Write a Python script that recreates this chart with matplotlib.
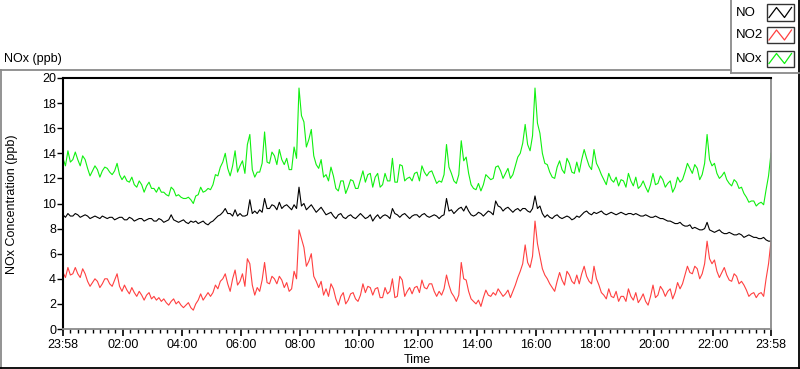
import numpy as np
import matplotlib
matplotlib.use("Agg")
import matplotlib.pyplot as plt
from matplotlib.lines import Line2D
from matplotlib.patches import Rectangle

# ---------------- data (readings every 5 minutes from 23:58) ----------------
start_time = "23:58"
step_minutes = 5

no = [9.1, 8.9, 9.2, 9.0, 9.0, 9.2, 9.1, 8.9, 9.0, 9.1,
      9.0, 8.8, 8.9, 9.0, 8.9, 8.8, 9.0, 8.9, 8.8, 8.9,
      8.9, 8.7, 8.8, 8.9, 8.9, 8.7, 8.7, 8.9, 8.8, 8.6,
      8.7, 8.8, 8.8, 8.6, 8.7, 8.8, 8.8, 8.6, 8.6, 8.8,
      8.7, 8.5, 8.6, 8.7, 9.1, 8.7, 8.6, 8.5, 8.6, 8.7,
      8.5, 8.4, 8.6, 8.5, 8.6, 8.4, 8.5, 8.6, 8.4, 8.3,
      8.5, 8.6, 8.8, 9.0, 9.1, 9.3, 9.6, 9.2, 9.2, 9.0,
      9.5, 9.0, 9.2, 9.0, 9.0, 9.1, 10.3, 9.2, 9.4, 9.2,
      9.5, 9.3, 10.4, 9.6, 9.6, 9.9, 9.8, 9.5, 10.1, 9.6,
      9.8, 9.9, 9.7, 9.5, 9.9, 9.6, 11.3, 9.8, 10.0, 9.5,
      9.7, 9.9, 9.6, 9.3, 9.5, 9.7, 9.4, 9.1, 9.2, 9.3,
      9.0, 8.8, 9.1, 9.2, 8.9, 8.8, 9.0, 9.1, 8.9, 8.8,
      9.0, 9.2, 9.0, 8.8, 8.9, 9.1, 8.6, 8.9, 9.1, 8.8,
      9.0, 9.1, 9.0, 8.8, 9.6, 9.2, 9.1, 8.9, 9.1, 9.2,
      9.0, 8.8, 9.0, 9.1, 9.1, 8.9, 9.1, 9.2, 9.0, 8.9,
      9.0, 9.1, 9.0, 8.8, 9.0, 9.1, 10.4, 9.4, 9.5, 9.2,
      9.4, 9.6, 9.7, 9.4, 9.8, 9.4, 9.1, 9.0, 9.1, 9.3,
      9.2, 9.0, 9.2, 9.4, 9.3, 9.1, 10.2, 9.8, 9.7, 9.4,
      9.6, 9.7, 9.5, 9.3, 9.5, 9.6, 9.4, 9.6, 9.6, 9.4,
      9.3, 9.6, 10.6, 9.6, 9.8, 9.2, 8.9, 9.1, 8.9, 8.8,
      9.0, 9.1, 8.9, 8.8, 8.9, 9.0, 8.9, 8.7, 8.8, 9.0,
      8.9, 9.1, 9.3, 9.4, 9.2, 9.1, 9.3, 9.2, 9.3, 9.4,
      9.2, 9.1, 9.2, 9.3, 9.2, 9.1, 9.2, 9.3, 9.2, 9.1,
      9.2, 9.2, 9.1, 9.2, 9.1, 9.0, 9.0, 9.1, 9.0, 8.9,
      8.9, 9.0, 8.9, 8.8, 8.8, 8.7, 8.6, 8.6, 8.5, 8.4,
      8.4, 8.5, 8.3, 8.2, 8.2, 8.3, 8.0, 8.1, 8.0, 7.9,
      7.9, 8.0, 8.5, 7.9, 7.8, 7.7, 7.8, 7.9, 7.7, 7.6,
      7.6, 7.7, 7.6, 7.5, 7.5, 7.6, 7.5, 7.3, 7.4, 7.5,
      7.4, 7.3, 7.3, 7.2, 7.2, 7.3, 7.1, 7.0, 7.0]

no2 = [4.5, 4.1, 4.9, 4.3, 4.4, 4.9, 4.4, 4.1, 4.8, 4.4,
       3.8, 3.4, 3.7, 4.0, 3.8, 3.3, 3.6, 4.0, 4.0, 3.6,
       3.4, 3.9, 4.4, 3.4, 3.0, 3.5, 3.1, 2.8, 3.3, 2.9,
       2.6, 3.0, 2.7, 2.3, 2.7, 2.9, 2.4, 2.6, 2.3, 2.5,
       2.2, 2.4, 2.1, 1.9, 2.2, 2.4, 2.0, 2.2, 1.9, 1.7,
       1.9, 2.1, 1.7, 1.5, 2.0, 2.3, 2.8, 2.3, 2.6, 2.9,
       2.6, 2.9, 3.5, 3.2, 3.8, 4.0, 4.4, 3.6, 3.0, 4.0,
       4.7, 3.5, 3.8, 4.4, 3.4, 5.6, 5.2, 3.5, 2.7, 3.3,
       3.0, 3.9, 5.3, 3.7, 3.6, 4.2, 4.0, 3.6, 4.2, 3.9,
       3.3, 3.7, 3.0, 3.2, 4.6, 4.0, 7.9, 7.2, 6.5, 5.0,
       5.4, 6.0, 4.2, 3.8, 3.3, 3.8, 2.7, 3.2, 2.6, 3.6,
       3.2, 2.4, 1.9, 2.6, 2.9, 2.0, 2.3, 2.8, 2.9, 2.4,
       2.2, 2.7, 3.6, 2.9, 3.4, 3.3, 2.7, 3.2, 3.3, 2.5,
       2.5, 3.3, 2.8, 3.0, 4.0, 2.5, 2.6, 4.2, 3.9, 2.6,
       3.0, 3.3, 2.8, 3.3, 3.4, 2.9, 3.9, 3.3, 3.2, 3.6,
       3.6, 3.0, 2.6, 3.0, 2.7, 3.2, 4.3, 3.5, 2.9, 2.6,
       2.2, 2.7, 5.3, 4.0, 3.9, 3.0, 2.4, 2.2, 2.0, 2.3,
       1.8, 2.5, 3.1, 2.7, 2.6, 2.9, 2.7, 3.2, 2.9, 2.6,
       2.8, 3.1, 2.5, 3.0, 3.5, 4.1, 4.6, 5.2, 6.7, 5.3,
       4.9, 5.8, 8.6, 6.8, 5.8, 4.8, 4.3, 4.0, 3.6, 3.3,
       3.0, 3.8, 4.5, 3.9, 3.5, 4.6, 4.3, 3.8, 3.6, 4.3,
       3.6, 4.4, 5.0, 4.2, 3.8, 3.6, 5.0, 4.0, 3.5, 2.9,
       2.7, 2.4, 3.2, 2.6, 2.5, 3.0, 2.2, 2.6, 2.6, 2.2,
       3.2, 2.6, 2.3, 2.9, 2.1, 2.4, 2.8, 2.2, 1.9, 2.6,
       3.5, 2.5, 2.7, 3.4, 3.1, 2.6, 3.0, 3.2, 2.4, 2.9,
       3.7, 3.2, 3.6, 4.3, 5.0, 4.5, 4.4, 5.0, 4.8, 4.0,
       4.4, 5.2, 7.0, 5.6, 5.2, 5.5, 4.6, 4.1, 4.5, 4.9,
       4.3, 3.9, 3.8, 4.4, 4.2, 3.6, 3.8, 3.5, 3.1, 2.6,
       2.8, 2.9, 2.5, 2.8, 2.9, 2.6, 4.0, 5.2, 7.0]

nox = [13.6, 13.0, 14.2, 13.3, 13.5, 14.1, 13.5, 13.0, 13.8, 13.5,
       12.8, 12.2, 12.6, 13.0, 12.7, 12.1, 12.6, 12.9, 12.8, 12.5,
       12.3, 12.6, 13.2, 12.3, 11.9, 12.2, 11.8, 11.7, 12.1, 11.5,
       11.3, 11.8, 11.5, 10.9, 11.4, 11.7, 11.2, 11.2, 10.9, 11.3,
       10.9, 10.9, 10.7, 10.6, 11.3, 11.1, 10.6, 10.7, 10.5, 10.4,
       10.4, 10.5, 10.3, 10.0, 10.6, 10.7, 11.3, 10.9, 11.0, 11.2,
       11.1, 11.5, 12.3, 12.2, 12.9, 13.3, 14.0, 12.8, 12.2, 13.0,
       14.2, 12.5, 13.0, 13.4, 12.4, 14.7, 15.5, 12.7, 12.1, 12.5,
       12.5, 13.2, 15.7, 13.3, 13.2, 14.1, 13.8, 13.1, 14.3, 13.5,
       13.1, 13.6, 12.7, 12.7, 14.5, 13.6, 19.2, 17.0, 16.5, 14.5,
       15.1, 15.9, 13.8, 13.1, 12.8, 13.5, 12.1, 12.3, 11.8, 12.9,
       12.2, 11.2, 11.0, 11.8, 11.8, 10.8, 11.3, 11.9, 11.8, 11.2,
       11.2, 11.9, 12.6, 11.7, 12.3, 12.4, 11.3, 12.1, 12.4, 11.3,
       11.5, 12.4, 11.8, 11.8, 13.6, 11.7, 11.7, 13.1, 13.0, 11.8,
       12.0, 12.1, 11.8, 12.4, 12.5, 11.8, 13.0, 12.5, 12.2, 12.5,
       12.6, 12.1, 11.6, 11.8, 11.7, 12.3, 14.7, 12.9, 12.4, 11.8,
       11.6, 12.3, 15.0, 13.4, 13.7, 12.4, 11.5, 11.2, 11.1, 11.6,
       11.0, 11.5, 12.3, 12.1, 11.9, 12.0, 12.9, 13.0, 12.6, 12.0,
       12.4, 12.8, 12.0, 12.3, 13.0, 13.7, 14.0, 14.8, 16.3, 14.7,
       14.2, 15.4, 19.2, 16.4, 15.6, 14.0, 13.2, 13.1, 12.5, 12.1,
       12.0, 12.9, 13.4, 12.7, 12.4, 13.6, 13.2, 12.5, 12.4, 13.3,
       12.5, 13.5, 14.3, 13.6, 13.0, 12.7, 14.3, 13.2, 12.8, 12.3,
       11.9, 11.5, 12.4, 11.9, 11.7, 12.1, 11.4, 11.9, 11.8, 11.3,
       12.4, 11.8, 11.4, 12.1, 11.2, 11.4, 11.8, 11.3, 10.9, 11.5,
       12.4, 11.5, 11.6, 12.2, 11.9, 11.3, 11.6, 11.8, 10.9, 11.3,
       12.1, 11.7, 11.9, 12.5, 13.2, 12.8, 12.4, 13.1, 12.8, 11.9,
       12.3, 13.2, 15.5, 13.5, 13.0, 13.2, 12.4, 12.0, 12.2, 12.5,
       11.9, 11.6, 11.4, 11.9, 11.7, 11.2, 11.3, 10.8, 10.5, 10.1,
       10.2, 10.2, 9.8, 10.0, 10.1, 9.9, 11.1, 12.2, 14.0]

series_names = ["NO", "NO2", "NOx"]
x_tick_labels = ["23:58", "02:00", "04:00", "06:00", "08:00", "10:00", "12:00",
                 "14:00", "16:00", "18:00", "20:00", "22:00", "23:58"]
y_ticks = [0, 2, 4, 6, 8, 10, 12, 14, 16, 18, 20]

# ---------------- style ----------------
colors = {"NO": "#000000", "NO2": "#ff4040", "NOx": "#10f010"}
plt.rcParams["font.family"] = ["Liberation Sans", "DejaVu Sans"]
FS = 9

W, H = 800, 369
fig = plt.figure(figsize=(W / 100, H / 100), dpi=100)
fig.patch.set_facecolor("white")


def fx(px):
    return px / W


def fy(py):
    return 1 - py / H


L, R, T, B = 63, 771, 78, 329
ax = fig.add_axes([fx(L), fy(B), fx(R) - fx(L), fy(T) - fy(B)])

t = np.arange(len(no)) * step_minutes
ax.plot(t, nox, color=colors["NOx"], lw=0.8)
ax.plot(t, no2, color=colors["NO2"], lw=0.8)
ax.plot(t, no, color=colors["NO"], lw=0.8)


def to_min(lbl):
    h, m = map(int, lbl.split(":"))
    h0, m0 = map(int, start_time.split(":"))
    return ((h * 60 + m) - (h0 * 60 + m0)) % 1440


major = [to_min(l) for l in x_tick_labels]
if major[-1] == 0:
    major[-1] = 1440
minor = []
for a, b in zip(major[:-1], major[1:]):
    minor += list(np.linspace(a, b, 9)[1:-1])

ax.set_xlim(0, 1440)
ax.set_ylim(0, 20)
ax.set_xticks(major)
ax.set_xticklabels(x_tick_labels, fontsize=FS)
ax.set_xticks(minor, minor=True)
ax.set_yticks(y_ticks)
ax.set_yticklabels([str(v) for v in y_ticks], fontsize=FS)
ax.tick_params(axis="x", which="major", length=5, width=1.2, pad=2, color="black")
ax.tick_params(axis="x", which="minor", length=3, width=1, color="black")
ax.tick_params(axis="y", which="major", length=4, width=1, pad=1, color="black")

for s in ["left", "top"]:
    ax.spines[s].set_color("black")
    ax.spines[s].set_linewidth(1.5)
for s in ["right", "bottom"]:
    ax.spines[s].set_color("#8a8a8a")
    ax.spines[s].set_linewidth(1.3)

fig.text(fx(12), fy(204), "NOx Concentration (ppb)", rotation=90, fontsize=FS,
         ha="center", va="center")
fig.text(fx(417), fy(360), "Time", fontsize=FS, ha="center", va="center")
fig.text(fx(4), fy(59), "NOx (ppb)", fontsize=FS, ha="left", va="center")

# ---------------- outer frame ----------------
gray = "#8a8a8a"


def fline(x0, y0, x1, y1, c, lw=1.3):
    fig.add_artist(Line2D([fx(x0), fx(x1)], [fy(y0), fy(y1)], color=c, lw=lw,
                          transform=fig.transFigure))


fline(0, 69.5, 730.5, 69.5, gray)
fline(0.7, 69.5, 0.7, 369, gray)
fline(0, 368.3, 800, 368.3, "black")
fline(799.3, 0, 799.3, 369, "black")
fline(730.5, 0, 730.5, 72.5, gray)
fline(730.5, 72.5, 799.3, 72.5, gray)

# ---------------- legend ----------------
rows = [12.5, 35, 58.5]
for name, yc in zip(series_names, rows):
    fig.text(fx(736), fy(yc), name, fontsize=FS + 0.5, ha="left", va="center")
    bx0, bx1 = 767, 793.5
    by0, by1 = yc - 8, yc + 8
    fig.add_artist(Rectangle((fx(bx0), fy(by1)), fx(bx1) - fx(bx0), fy(by0) - fy(by1),
                             transform=fig.transFigure, facecolor="white",
                             edgecolor="#333333", lw=1.0))
    zx = [bx0 + 2, bx0 + 9.5, bx0 + 17.5, bx0 + 24.5]
    zy = [yc + 5, yc - 5, yc + 5, yc - 5]
    fig.add_artist(Line2D([fx(v) for v in zx], [fy(v) for v in zy],
                          color=colors[name], lw=0.9, transform=fig.transFigure))

fig.savefig("out.png", dpi=100, facecolor="white")
